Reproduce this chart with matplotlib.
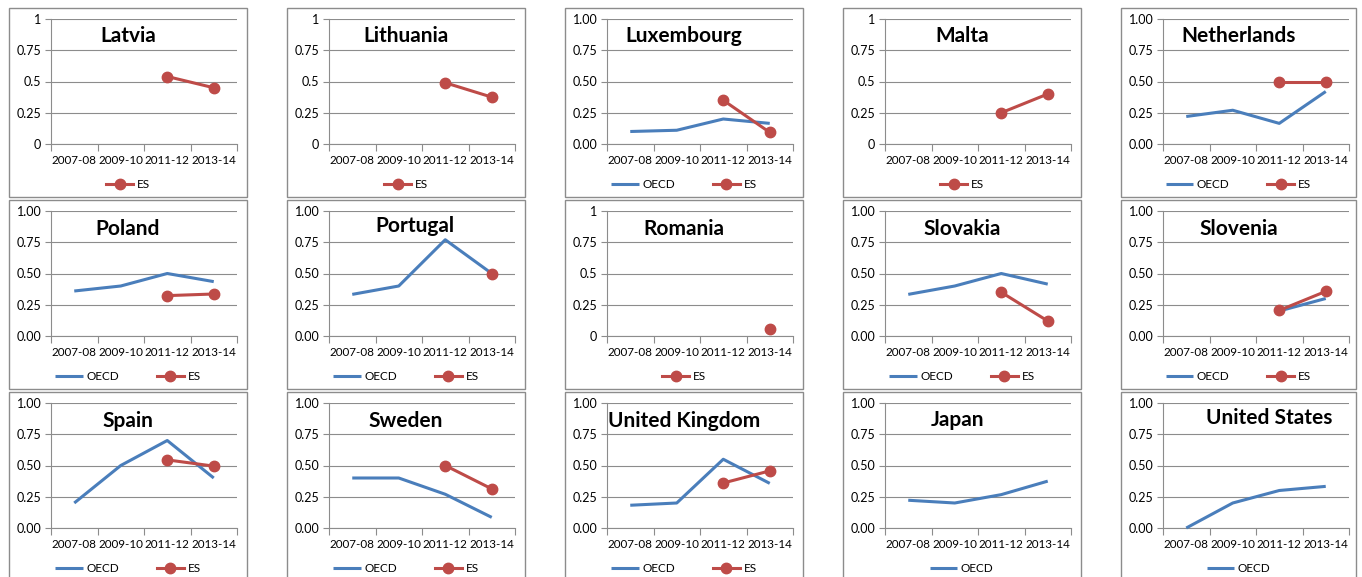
import numpy as np
import matplotlib
matplotlib.use('Agg')
import matplotlib.pyplot as plt
from matplotlib.patches import Rectangle

nan = np.nan

# ---------------- data ----------------
periods = ['2007-08', '2009-10', '2011-12', '2013-14']
countries = ['Latvia', 'Lithuania', 'Luxembourg', 'Malta', 'Netherlands',
             'Poland', 'Portugal', 'Romania', 'Slovakia', 'Slovenia',
             'Spain', 'Sweden', 'United Kingdom', 'Japan', 'United States']

oecd_luxembourg = [0.10, 0.11, 0.20, 0.165]
oecd_netherlands = [0.22, 0.27, 0.165, 0.42]
oecd_poland = [0.36, 0.40, 0.50, 0.435]
oecd_portugal = [0.333, 0.40, 0.77, 0.50]
oecd_slovakia = [0.333, 0.40, 0.50, 0.415]
oecd_slovenia = [nan, nan, 0.20, 0.30]
oecd_spain = [0.20, 0.50, 0.70, 0.40]
oecd_sweden = [0.40, 0.40, 0.27, 0.085]
oecd_uk = [0.182, 0.20, 0.55, 0.357]
oecd_japan = [0.222, 0.20, 0.267, 0.375]
oecd_us = [0.0, 0.20, 0.30, 0.333]

es_latvia = [nan, nan, 0.54, 0.45]
es_lithuania = [nan, nan, 0.49, 0.375]
es_luxembourg = [nan, nan, 0.35, 0.093]
es_malta = [nan, nan, 0.25, 0.40]
es_netherlands = [nan, nan, 0.50, 0.50]
es_poland = [nan, nan, 0.323, 0.336]
es_portugal = [nan, nan, nan, 0.50]
es_romania = [nan, nan, nan, 0.06]
es_slovakia = [nan, nan, 0.35, 0.12]
es_slovenia = [nan, nan, 0.205, 0.357]
es_spain = [nan, nan, 0.545, 0.495]
es_sweden = [nan, nan, 0.50, 0.313]
es_uk = [nan, nan, 0.36, 0.457]

oecd_series = [None, None, oecd_luxembourg, None, oecd_netherlands,
               oecd_poland, oecd_portugal, None, oecd_slovakia, oecd_slovenia,
               oecd_spain, oecd_sweden, oecd_uk, oecd_japan, oecd_us]
es_series = [es_latvia, es_lithuania, es_luxembourg, es_malta, es_netherlands,
             es_poland, es_portugal, es_romania, es_slovakia, es_slovenia,
             es_spain, es_sweden, es_uk, None, None]

yticks = [0, 0.25, 0.5, 0.75, 1.0]
ylabels_short = ['0', '0.25', '0.5', '0.75', '1']
ylabels_fixed = ['0.00', '0.25', '0.50', '0.75', '1.00']
short_axis = ['Latvia', 'Lithuania', 'Malta', 'Romania']

# ---------------- layout (pixels) ----------------
W, H = 1362, 577
DPI = 100
col_left = [9, 287, 565, 843, 1121]
box_w = [238, 238, 238, 238, 235]
row_top = [8, 200, 392]
box_h = 189
title_dx = [0, 0, 0, 0, 0,
            0, 9, 0, 0, 0,
            0, 0, 0, -4, 31]
title_base = [34, 34, 34, 34, 34,
              35, 32, 35, 35, 35,
              35, 35, 35, 34, 32]

BLUE = '#4A7EBB'
RED = '#BE4B48'
GRAY = '#8C8C8C'
FONT = 'Lato'

plt.rcParams['font.family'] = [FONT, 'DejaVu Sans']

fig = plt.figure(figsize=(W / DPI, H / DPI), dpi=DPI)
fig.patch.set_facecolor('white')

for i, name in enumerate(countries):
    r, c = divmod(i, 5)
    bl, bt = col_left[c], row_top[r]
    bw = box_w[c]
    # chart border
    fig.add_artist(Rectangle((bl / W, 1 - (bt + box_h) / H), bw / W, box_h / H,
                             transform=fig.transFigure, facecolor='white',
                             edgecolor=GRAY, linewidth=1.0, zorder=0))
    al, at, aw, ah = bl + 42, bt + 11, 186, 125
    ax = fig.add_axes([al / W, 1 - (at + ah) / H, aw / W, ah / H])
    ax.set_facecolor('none')
    ax.set_xlim(0, 4)
    ax.set_ylim(0, 1)
    x = np.arange(len(periods)) + 0.5

    handles = []
    if oecd_series[i] is not None:
        h1, = ax.plot(x, oecd_series[i], color=BLUE, lw=2.2, label='OECD',
                      solid_capstyle='butt', zorder=3, clip_on=False)
        handles.append(h1)
    if es_series[i] is not None:
        h2, = ax.plot(x, es_series[i], color=RED, lw=2.2, marker='o', ms=7.5,
                      label='ES', zorder=4, clip_on=False)
        handles.append(h2)

    ax.set_xticks([0, 1, 2, 3, 4])
    ax.set_xticklabels([])
    ax.set_xticks(x, minor=True)
    ax.set_xticklabels(periods, minor=True)
    ax.tick_params(axis='x', which='major', length=5, width=0.8, color=GRAY,
                   direction='out')
    ax.tick_params(axis='x', which='minor', length=0, pad=8, labelsize=8.4)
    ax.set_yticks(yticks)
    ax.set_yticklabels(ylabels_short if name in short_axis else ylabels_fixed)
    ax.tick_params(axis='y', length=4, width=0.8, color=GRAY, pad=3,
                   labelsize=9, direction='out')
    ax.yaxis.grid(True, color=GRAY, lw=0.8)
    ax.set_axisbelow(True)
    for s in ['top', 'right']:
        ax.spines[s].set_visible(False)
    for s in ['left', 'bottom']:
        ax.spines[s].set_color(GRAY)
        ax.spines[s].set_linewidth(0.8)

    cx = bl + bw / 2
    fig.text((cx + title_dx[i]) / W, 1 - (bt + title_base[i]) / H, name,
             ha='center', va='baseline', fontsize=15, fontweight='bold',
             color='black')

    leg_y = bt + 176.5
    ax.legend(handles=handles, loc='center', bbox_to_anchor=(cx / W, 1 - leg_y / H),
              bbox_transform=fig.transFigure, ncol=len(handles), frameon=False,
              fontsize=8.5, handlelength=2.3, handletextpad=0.3,
              columnspacing=3.2, numpoints=1, borderpad=0, borderaxespad=0)

fig.savefig('out.png', dpi=DPI, facecolor='white')
